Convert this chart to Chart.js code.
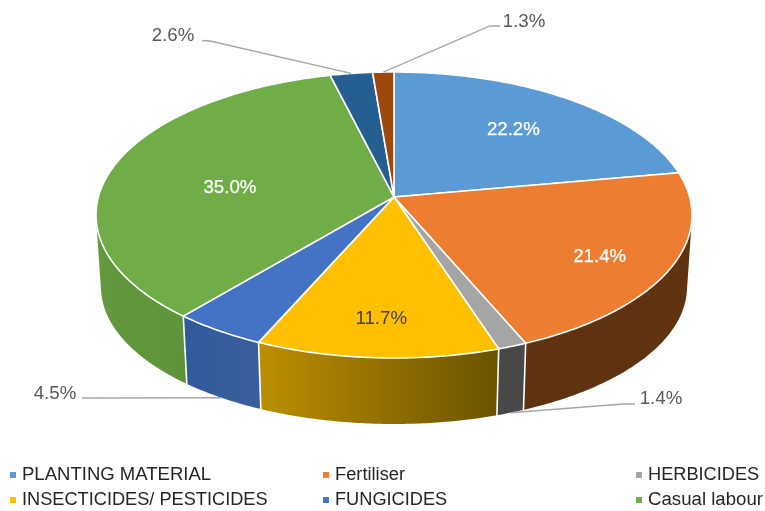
<!DOCTYPE html>
<html><head><meta charset="utf-8">
<style>html,body{margin:0;padding:0;background:#fff}canvas{display:block}</style>
<script src="https://cdn.jsdelivr.net/npm/chart.js@4"></script>
</head><body><canvas id="c" width="765" height="511"></canvas>
<script>
const categories = ["PLANTING MATERIAL","Fertiliser","HERBICIDES","INSECTICIDES/ PESTICIDES","FUNGICIDES","Casual labour","Slice 7","Slice 8"];
const values = [22.2,21.4,1.4,11.7,4.5,35.0,2.6,1.3];
const valueLabels = ["22.2%","21.4%","1.4%","11.7%","4.5%","35.0%","2.6%","1.3%"];
const topColors = ["#5B9BD5","#ED7D31","#A5A5A5","#FFC000","#4472C4","#70AD47","#255E91","#9E480E"];
const wallLeft  = ["#3f6f9b","#5f3210","#484848","#bd8f00","#2f5a9c","#63993e","#1a4468","#6e320a"];
const wallRight = ["#3f6f9b","#5f3210","#484848","#6a5200","#3a5f9c","#578a34","#1a4468","#6e320a"];

// perspective model of the pie disc
const TOP = {cx:394,cy:215,rx:298,ry:143};
const BOT = {cx:394,cy:287,rx:293,ry:137};
const APEX = -0.126;
function project(e,t,r){
  const u=r*Math.sin(t), v=-r*Math.cos(t), d=1+APEX*v;
  return {x:e.cx+e.rx*u*Math.sqrt(1-APEX*APEX)/d, y:e.cy+e.ry*(v+APEX)/d};
}
const insideRadius = {0:.67,1:.77,3:.777,5:.565};
const insideShift = {0:0,1:0.044,3:0,5:-0.096};
const insideColor = {0:"#fff",1:"#fff",3:"#404040",5:"#fff"};
const outside = {
  2:{text:[661,398],path:[[635,404],[623,404]],wall:true},
  4:{text:[55,393],path:[[82,398]],wall:true},
  6:{text:[173,35],path:[[202,40.5],[210,41]],wall:false},
  7:{text:[524,21],path:[[500,26],[490,26]],wall:false}
};
const legendCols=[[10,22],[323,335],[636,648]], legendRows=[474,499], legendOrder=[[0,1,2],[3,4,5]];
const legendSizes=[18.55,18.3,18.2,18.2,18.2,18.65];
const FAMILY='"Liberation Sans", Arial, sans-serif';
const FONT='18.7px '+FAMILY;

const pie3d={
  id:'pie3d',
  beforeDatasetsDraw(chart){
    const ctx=chart.ctx, arcs=chart.getDatasetMeta(0).data;
    const range=(a)=>{const s=a.startAngle+Math.PI/2,e=a.endAngle+Math.PI/2,n=Math.max(2,Math.ceil((e-s)/0.01)),o=[];
      for(let i=0;i<=n;i++)o.push(s+(e-s)*i/n);return o;};
    ctx.save(); ctx.lineJoin='round'; ctx.lineCap='round';
    // walls: union of consistently wound strips, so the silhouette is closed and seamless
    arcs.forEach((a,i)=>{
      const ts=range(a), tp=ts.map(t=>project(TOP,t,1)), bp=ts.map(t=>project(BOT,t,1));
      const xs=tp.map(p=>p.x), g=ctx.createLinearGradient(Math.min(...xs),0,Math.max(...xs),0);
      g.addColorStop(0,wallLeft[i]); g.addColorStop(1,wallRight[i]);
      ctx.beginPath();
      for(let k=0;k<ts.length-1;k++){
        let q=[tp[k],tp[k+1],bp[k+1],bp[k]], area=0;
        q.forEach((p,j)=>{const n=q[(j+1)%4];area+=p.x*n.y-n.x*p.y;});
        if(area<0)q=q.reverse();
        q.forEach((p,j)=>j?ctx.lineTo(p.x,p.y):ctx.moveTo(p.x,p.y));
        ctx.closePath();
      }
      ctx.fillStyle=g; ctx.fill('nonzero');
    });
    // white separators between walls
    ctx.strokeStyle='#fff'; ctx.lineWidth=1.6;
    arcs.forEach(a=>{
      const t=a.startAngle+Math.PI/2, p=project(TOP,t,1), q=project(BOT,t,1);
      ctx.beginPath(); ctx.moveTo(p.x,p.y); ctx.lineTo(q.x,q.y); ctx.stroke();
    });
    // top face
    const c=project(TOP,0,0);
    arcs.forEach((a,i)=>{
      ctx.beginPath(); ctx.moveTo(c.x,c.y);
      range(a).forEach(t=>{const p=project(TOP,t,1);ctx.lineTo(p.x,p.y);});
      ctx.closePath(); ctx.fillStyle=a.options.backgroundColor; ctx.fill();
      ctx.strokeStyle='#fff'; ctx.lineWidth=1.6; ctx.stroke();
    });
    ctx.restore();
    return false;
  },
  afterDraw(chart){
    const ctx=chart.ctx, arcs=chart.getDatasetMeta(0).data;
    ctx.save();
    ctx.textAlign='center'; ctx.textBaseline='middle'; ctx.font=FONT;
    arcs.forEach((a,i)=>{
      const mid=(a.startAngle+a.endAngle)/2+Math.PI/2;
      if(insideRadius[i]!==undefined){
        const p=project(TOP,mid+insideShift[i],insideRadius[i]);
        ctx.fillStyle=insideColor[i]; ctx.fillText(valueLabels[i],p.x,p.y+1);
        if(insideColor[i]==='#fff'){ctx.strokeStyle='#fff';ctx.lineWidth=0.25;ctx.strokeText(valueLabels[i],p.x,p.y+1);}
      }else{
        const o=outside[i], end=project(o.wall?BOT:TOP,mid,1);
        ctx.strokeStyle='#a6a6a6'; ctx.lineWidth=1.3;
        ctx.beginPath(); o.path.forEach((q,k)=>k?ctx.lineTo(q[0],q[1]):ctx.moveTo(q[0],q[1]));
        ctx.lineTo(end.x,end.y); ctx.stroke();
        ctx.fillStyle='#595959'; ctx.fillText(valueLabels[i],o.text[0],o.text[1]+1);
      }
    });
    ctx.textAlign='left';
    legendOrder.forEach((row,r)=>row.forEach((idx,col)=>{
      const [mx,tx]=legendCols[col], y=legendRows[r];
      ctx.fillStyle=topColors[idx]; ctx.fillRect(mx,y-2,6,6);
      ctx.font=legendSizes[idx]+'px '+FAMILY;
      ctx.fillStyle='#262626'; ctx.fillText(categories[idx],tx,y+1);
    }));
    ctx.restore();
  }
};
new Chart(document.getElementById('c'),{
  type:'pie',
  data:{labels:categories,datasets:[{data:values,backgroundColor:topColors,borderColor:'#fff',borderWidth:1.5}]},
  options:{responsive:false,animation:false,devicePixelRatio:1,
    plugins:{legend:{display:false},tooltip:{enabled:false}}},
  plugins:[pie3d]
});
</script></body></html>
